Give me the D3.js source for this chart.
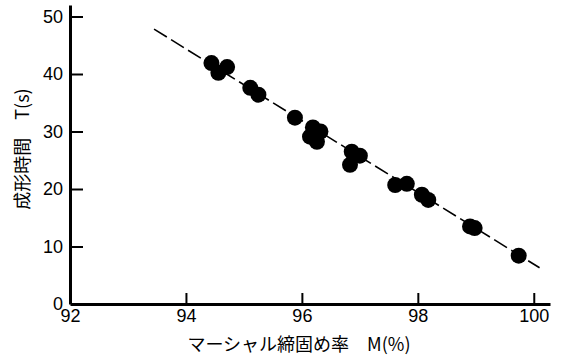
<!DOCTYPE html>
<html>
<head>
<meta charset="utf-8">
<script src="https://cdn.jsdelivr.net/npm/d3@7"></script>
<style>
  body { margin: 0; background: #fff; }
  .tick text { font-family: "Liberation Sans Narrow", "Liberation Sans", sans-serif; font-size: 18px; fill: #000; }
</style>
</head>
<body>
<div id="chart"></div>
<script>
// marshall compaction ratio (%) vs forming time (s)
var compaction = [94.44, 94.71, 94.56, 95.11, 95.25, 95.88, 96.19, 96.32, 96.14, 96.26,
                  96.86, 97.00, 96.83, 97.61, 97.81, 98.07, 98.18, 98.90, 98.98, 99.74];
var formTime = [41.9, 41.2, 40.2, 37.6, 36.4, 32.4, 30.7, 30.0, 29.1, 28.2,
                26.5, 25.8, 24.2, 20.7, 20.9, 19.0, 18.1, 13.5, 13.2, 8.4];

// fitted line end points
var fitX = [93.45, 100.1];
var fitY = [47.8, 6.3];

var xTicks = [92, 94, 96, 98, 100];
var yTicks = [0, 10, 20, 30, 40, 50];

var svgWidth = 575;
var svgHeight = 360;

var svg = d3.select("#chart")
    .append("svg")
    .attr("width", svgWidth)
    .attr("height", svgHeight);

var xScale = d3.scaleLinear()
    .domain([92, 100.28])
    .range([70, 550]);

var yScale = d3.scaleLinear()
    .domain([0, 52])
    .range([304, 5]);

var bottomAxis = d3.axisBottom(xScale)
    .tickValues(xTicks)
    .tickSizeInner(-11)
    .tickSizeOuter(0)
    .tickPadding(4)
    .tickFormat(d3.format("d"));

var leftAxis = d3.axisLeft(yScale)
    .tickValues(yTicks)
    .tickSizeInner(-13)
    .tickSizeOuter(0)
    .tickPadding(7)
    .tickFormat(d3.format("d"));

var xg = svg.append("g")
    .attr("transform", "translate(0, 304)")
    .call(bottomAxis);

var yg = svg.append("g")
    .attr("transform", "translate(70, 0)")
    .call(leftAxis);

xg.select(".domain").attr("stroke", "#000").attr("stroke-width", 3);
yg.select(".domain").attr("stroke", "#000").attr("stroke-width", 3);
xg.selectAll(".tick line").attr("stroke", "#000").attr("stroke-width", 2);
yg.selectAll(".tick line").attr("stroke", "#000").attr("stroke-width", 2);
xg.selectAll(".tick").filter(d => d === 92).select("line").remove();
yg.selectAll(".tick").filter(d => d === 0).select("line").remove();
xg.selectAll(".tick text").attr("dy", "0.8em");

// dashed fit line
var line = d3.line()
    .x(d => xScale(d[0]))
    .y(d => yScale(d[1]));

svg.append("path")
    .datum(d3.zip(fitX, fitY))
    .attr("d", line)
    .attr("fill", "none")
    .attr("stroke", "#000")
    .attr("stroke-width", 1.6)
    .attr("stroke-dasharray", "15,5");

svg.selectAll("circle")
    .data(d3.zip(compaction, formTime))
    .enter()
    .append("circle")
    .attr("cx", d => xScale(d[0]))
    .attr("cy", d => yScale(d[1]))
    .attr("r", 8)
    .attr("fill", "#000");

// axis titles
svg.append("text")
    .attr("transform", "translate(29, 149) rotate(-90)")
    .attr("text-anchor", "middle")
    .style("font-family", "'Noto Sans CJK JP', sans-serif")
    .style("font-size", "18px")
    .text("成形時間　T(s)");

svg.append("text")
    .attr("x", 299)
    .attr("y", 351)
    .attr("text-anchor", "middle")
    .style("font-family", "'Noto Sans CJK JP', sans-serif")
    .style("font-size", "18px")
    .text("マーシャル締固め率　M(%)");
</script>
</body>
</html>
